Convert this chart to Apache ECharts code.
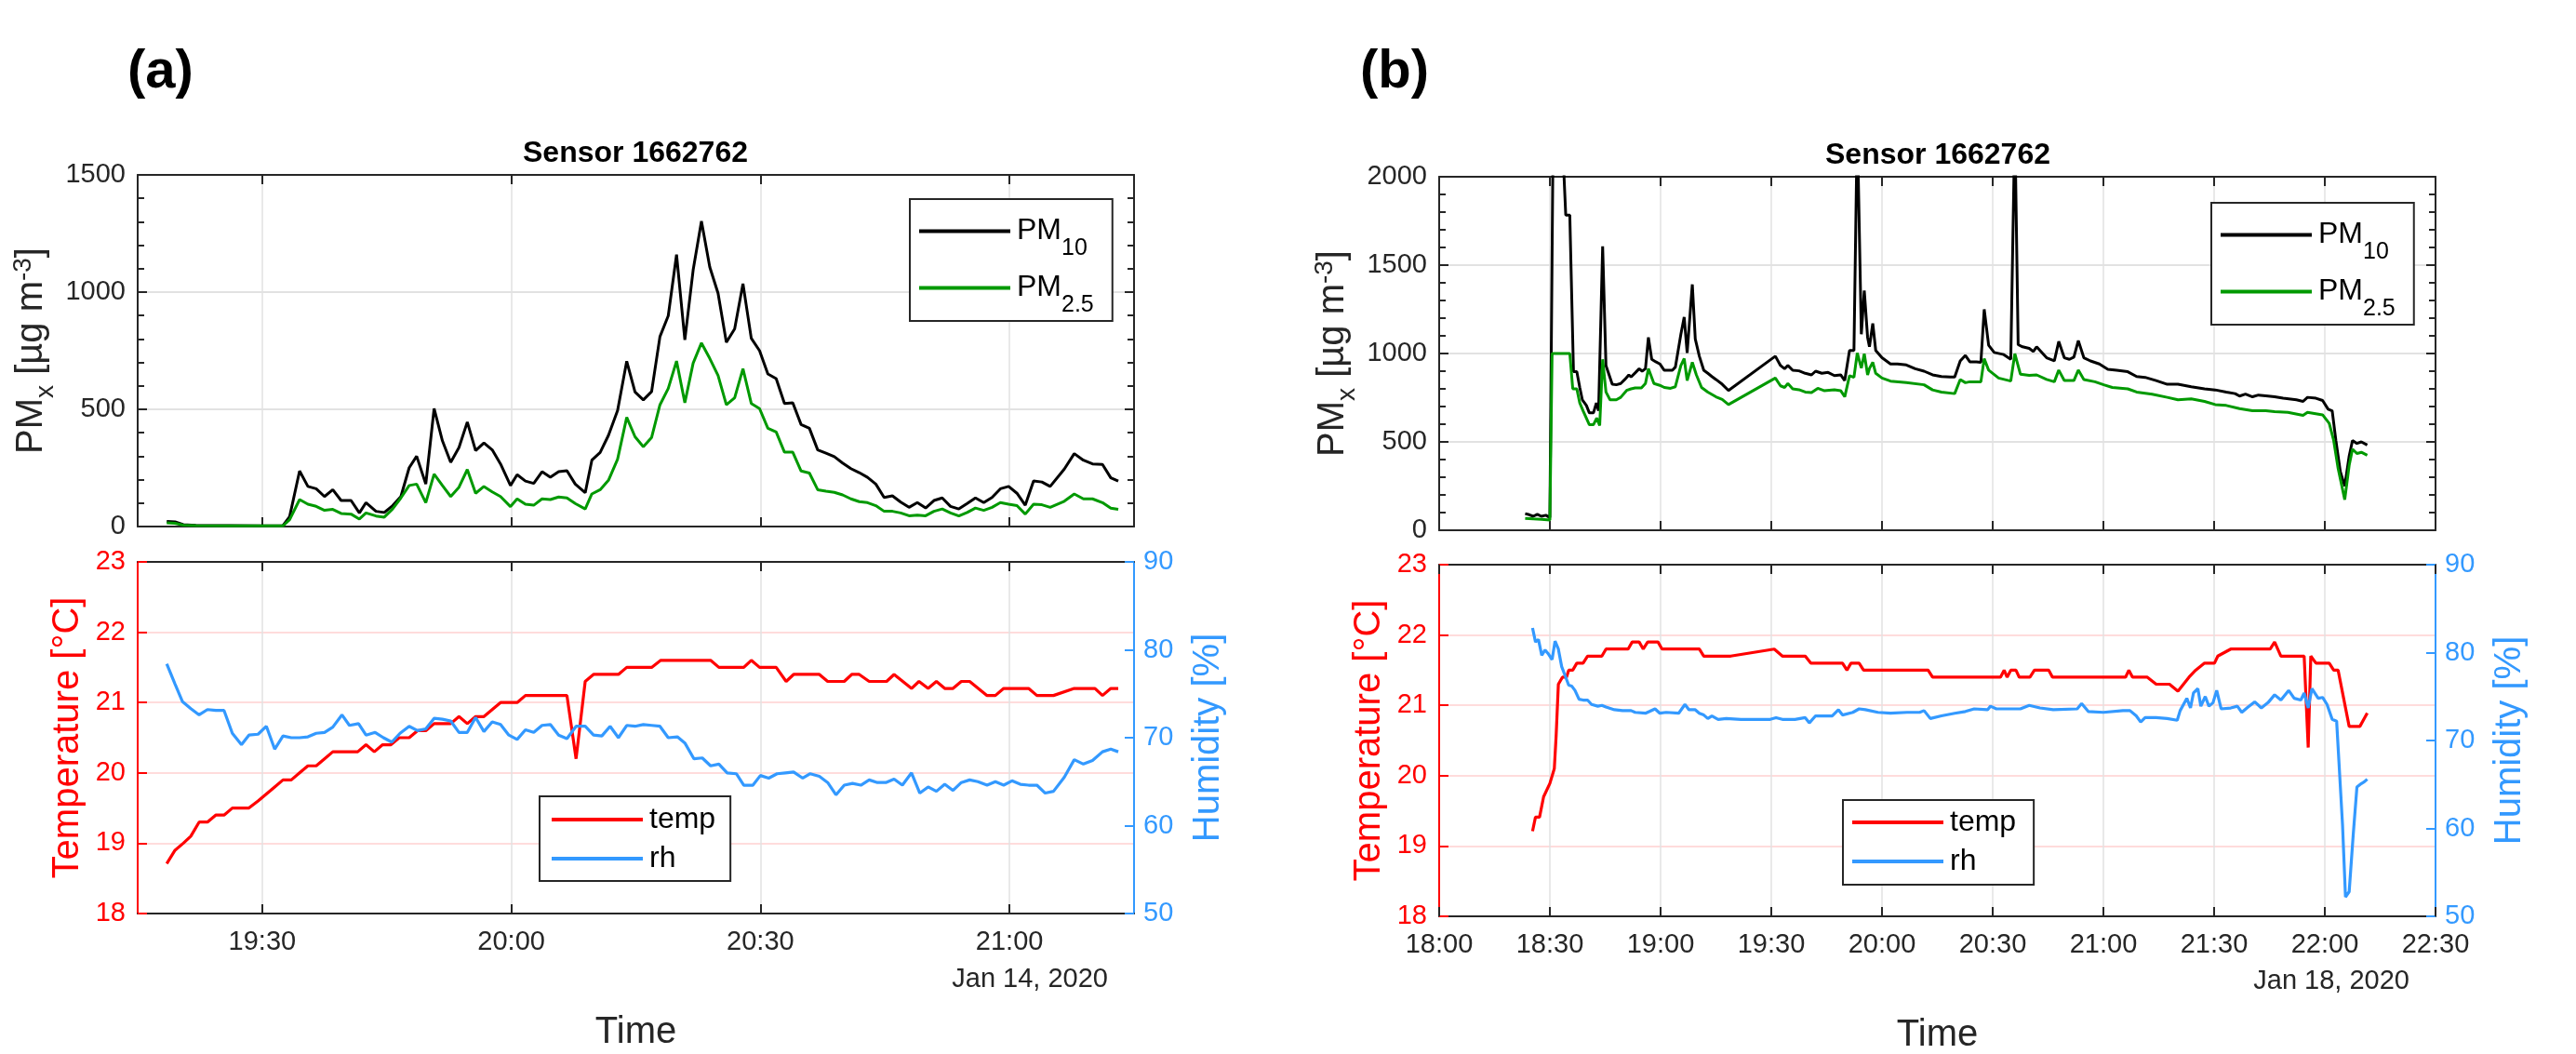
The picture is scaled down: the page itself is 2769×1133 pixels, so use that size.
<!DOCTYPE html>
<html><head><meta charset="utf-8">
<script src="https://cdn.jsdelivr.net/npm/echarts@6/dist/echarts.min.js"></script>
<style>html,body{margin:0;padding:0;background:#fff}#c{width:2769px;height:1133px}</style>
</head><body><div id="c"></div>
<script>
// ---------------- data (times in minutes after panel base hour) ----------------
const baseA = 19 * 60;   // Jan 14, 2020 19:00
const baseB = 18 * 60;   // Jan 18, 2020 18:00

const xTicksA = ['19:30', '20:00', '20:30', '21:00'];
const xTicksB = ['18:00', '18:30', '19:00', '19:30', '20:00', '20:30', '21:00', '21:30', '22:00', '22:30'];
const pmTicksA = [0, 500, 1000, 1500];
const pmTicksB = [0, 500, 1000, 1500, 2000];
const tempTicks = [18, 19, 20, 21, 22, 23];
const rhTicks = [50, 60, 70, 80, 90];

// Panel (a) PM
const tPMa = [18.5,19.5,20.5,22,26,30,32.5,33.3,34.5,35.5,36.5,37.5,38.5,39.5,40.7,41.7,42.5,43.7,44.7,45.7,46.7,47.7,48.6,49.7,50.7,51.7,52.7,53.7,54.7,55.7,56.7,57.7,58.7,59.9,60.7,61.7,62.7,63.7,64.7,65.7,66.7,67.7,68.9,69.7,70.7,71.7,72.8,73.9,74.9,75.9,76.9,77.9,78.9,79.9,80.9,81.9,82.9,83.9,84.9,85.9,86.9,87.9,88.9,89.9,90.9,91.9,92.9,93.9,94.9,95.9,96.9,97.9,98.9,99.9,100.9,101.9,102.9,103.9,104.9,105.9,106.9,107.9,108.9,109.9,110.9,111.9,112.9,113.9,114.9,115.9,116.9,117.9,118.9,119.9,120.9,121.9,122.9,123.9,124.9,126.6,127.8,128.9,130,131.2,132.2,133.1];
const pm10A = [22,20,8,5,4,3,4,42,237,171,161,128,157,111,111,58,102,65,60,89,128,251,300,181,503,366,274,337,446,324,357,327,267,175,221,194,184,234,210,234,238,181,144,283,316,389,495,705,574,540,576,810,899,1160,796,1094,1303,1107,995,786,843,1036,803,750,651,631,525,528,435,419,327,313,298,271,247,230,210,181,124,131,104,82,102,79,111,122,86,75,98,122,102,124,161,171,142,91,194,190,171,245,311,283,267,265,208,194];
const pm25A = [16,14,6,4,3,3,3,29,115,95,86,69,73,56,53,32,58,45,40,75,122,175,181,102,224,175,128,168,243,142,171,148,128,85,118,95,91,118,115,126,122,98,75,139,157,197,287,466,383,340,380,519,589,706,528,697,783,717,644,519,549,673,525,503,419,403,317,317,237,228,157,151,146,135,118,106,102,89,65,65,58,46,49,46,65,75,58,45,60,79,69,82,102,95,89,53,95,93,82,108,139,118,118,102,78,73];

// Panel (a) temperature
const tTempA = [18.5,19.5,20.5,21.4,22.4,23.4,24.4,25.4,26.4,28.4,29.5,30.5,31.5,32.5,33.5,34.5,35.5,36.5,37.5,38.5,41.5,42.5,43.5,44.5,45.5,46.5,47.7,48.7,49.7,50.7,52.7,53.7,54.7,55.7,56.7,57.7,58.7,60.7,61.7,66.7,67.8,68.9,69.9,72.9,73.9,76.9,78,84,85,88,88.9,89.9,91.9,93.1,94,97.1,98.1,100.1,101,101.9,103.1,105.2,106.1,108.2,109.1,110.2,111.2,112.2,113.2,114.2,115.2,117.3,118.3,119.3,122.3,123.3,125.3,127.8,130.3,131.2,132.2,133.1];
const tempA = [18.71,18.9,19.0,19.1,19.3,19.3,19.4,19.4,19.5,19.5,19.6,19.7,19.8,19.9,19.9,20.0,20.1,20.1,20.2,20.3,20.3,20.4,20.3,20.4,20.4,20.5,20.5,20.6,20.6,20.7,20.7,20.8,20.7,20.8,20.8,20.9,21.0,21.0,21.1,21.1,20.2,21.3,21.4,21.4,21.5,21.5,21.6,21.6,21.5,21.5,21.6,21.5,21.5,21.3,21.4,21.4,21.3,21.3,21.4,21.4,21.3,21.3,21.4,21.2,21.3,21.2,21.3,21.2,21.2,21.3,21.3,21.1,21.1,21.2,21.2,21.1,21.1,21.2,21.2,21.1,21.2,21.2];

// Panel (a) humidity
const tRhA = [18.5,19.5,20.4,21.4,22.4,23.4,24.4,25.4,26.4,27.5,28.4,29.5,30.5,31.5,32.5,33.5,34.5,35.5,36.5,37.5,38.5,39.6,40.5,41.6,42.5,43.6,44.6,45.6,46.6,47.7,48.7,49.7,50.7,51.7,52.7,53.7,54.7,55.7,56.7,57.7,58.7,59.7,60.7,61.7,62.7,63.7,64.7,65.7,66.7,67.8,68.9,69.9,70.9,71.9,72.9,73.9,74.9,75.9,76.9,77.9,78.9,80,80.9,82,83,84,85,86,87.1,88,89.1,90,91,92,93,94,95.1,96,97.1,98.1,99.1,100.1,101.1,102.1,103.1,104.1,105.1,106.1,107.1,108.2,109.2,110.2,111.2,112.2,113.2,114.2,115.2,116.2,117.3,118.3,119.3,120.3,121.3,122.3,123.3,124.3,125.3,126.6,127.8,128.9,130,131.2,132.2,133.1];
const rhA = [78.4,76.1,74.1,73.3,72.6,73.2,73.1,73.1,70.5,69.2,70.3,70.4,71.3,68.7,70.2,70.0,70.0,70.1,70.5,70.6,71.2,72.6,71.4,71.6,70.3,70.6,70.0,69.5,70.5,71.3,70.8,71.0,72.2,72.1,71.9,70.6,70.6,72.3,70.7,71.8,71.5,70.3,69.8,70.9,70.6,71.4,71.5,70.3,69.9,71.3,71.3,70.3,70.2,71.3,70.0,71.4,71.3,71.5,71.4,71.3,70.0,70.1,69.4,67.6,67.7,66.8,67.0,66.0,65.9,64.6,64.6,65.7,65.4,65.9,66.0,66.1,65.4,65.9,65.6,64.9,63.5,64.6,64.8,64.6,65.2,64.9,64.9,65.3,64.6,66.0,63.7,64.4,63.9,64.7,64.0,64.9,65.2,65.0,64.6,65.0,64.6,65.1,64.7,64.6,64.6,63.7,63.9,65.5,67.5,67.0,67.4,68.4,68.7,68.4];

// Panel (b) PM10 (values above 2000 are clipped by the axis)
const tPM10B = [23.3,24.4,25.5,26.6,27.7,28.9,30.0,30.9,33.2,34.3,35.4,36.4,37.3,38.1,38.8,39.9,40.7,41.8,42.6,43.2,44.3,45.2,46.9,48.0,49.2,50.3,51.4,52.0,53.1,54.2,55.0,55.9,56.7,57.6,58.7,59.8,61.0,63.2,64.0,65.5,66.4,67.2,68.6,69.4,70.5,71.7,72.8,73.9,75.0,76.7,78.4,91.1,92.5,93.6,94.5,95.8,97.5,99.2,100.9,102.0,103.7,105.4,107.1,108.8,109.9,111.2,112.4,113.3,114.4,115.2,116.1,116.6,117.5,118.3,120.0,122.3,124.2,126.6,129.0,131.4,133.7,136.1,138.5,139.7,141.2,142.6,143.8,145.6,146.8,147.7,148.9,150.4,153.0,154.9,156.0,156.9,158.1,159.9,161.0,161.9,164.6,166.7,167.9,169.4,170.8,172.0,173.2,174.7,176.5,178.9,181.2,183.6,186.6,189.0,191.3,194.3,197.3,200.2,203.8,207.4,210.3,213.3,215.7,216.9,218.5,220.4,222.0,224.0,226.4,228.7,232.3,234.1,235.3,237.6,239.4,240.9,242.0,243.0,244.2,245.4,246.6,247.5,248.7,249.9,251.5];
const pm10B = [94,88,79,90,79,85,72,2300,2300,1783,1783,897,897,808,738,706,664,664,720,676,1606,932,826,823,830,853,879,867,890,914,900,914,1091,967,953,941,905,905,923,1109,1206,1003,1391,1082,985,905,888,870,853,826,791,985,932,914,932,905,902,888,879,900,888,893,875,879,847,1017,1017,2300,1109,1356,1091,1038,1170,1017,976,941,941,935,914,900,879,870,867,867,958,989,953,953,950,1250,1047,1006,994,967,2300,1050,1038,1029,1011,1038,976,958,1068,976,967,980,1073,976,958,941,911,905,897,870,865,847,826,826,812,800,794,782,773,759,770,755,765,761,755,747,738,729,752,747,734,685,676,508,332,250,420,508,491,500,482];

// Panel (b) PM2.5
const tPM25B = [23.3,25.5,27.7,30.0,30.6,35.4,36.2,37.3,38.1,39.0,40.7,41.8,42.7,43.5,44.3,45.2,46.3,48.0,49.2,50.8,52.0,53.1,54.8,55.9,56.7,58.2,59.8,61.0,62.7,64.0,65.5,66.4,67.2,68.6,69.7,71.1,72.8,75.0,76.7,78.4,91.1,92.5,93.6,94.5,95.8,97.5,99.2,100.9,102.6,104.3,107.1,108.8,109.9,111.2,112.4,113.3,114.4,115.2,116.1,116.6,117.5,118.3,120.0,122.3,126.6,131.4,133.7,136.1,139.7,141.2,142.6,143.8,146.8,147.7,148.9,151.6,154.9,156.0,157.5,159.9,161.9,164.6,166.7,167.9,169.4,172.0,173.2,174.7,177.7,180.1,182.4,186.6,189.0,193.2,197.3,200.2,203.8,207.4,210.3,213.3,216.9,220.4,224.0,226.4,230.0,234.1,235.3,239.4,241.2,242.4,243.6,245.4,246.6,247.5,248.7,249.9,251.5];
const pm25B = [67,64,62,58,1000,1000,800,800,720,676,597,597,635,593,967,782,738,738,752,791,800,805,805,830,914,830,820,808,803,812,932,971,847,950,879,808,782,755,740,711,861,817,808,830,800,795,782,779,803,790,795,790,755,874,865,1003,918,999,879,915,950,888,861,844,835,823,794,782,773,853,835,840,840,971,906,861,844,999,883,876,879,853,840,906,847,847,906,853,840,823,808,800,782,770,752,738,743,729,711,706,688,676,676,671,667,650,667,653,605,508,350,173,367,459,434,441,424];

// Panel (b) temperature
const tTempB = [25.3,26.1,27.2,28.3,30.0,31.2,31.7,32.3,33.4,34.5,35.1,36.2,37.3,39.0,40.2,44.1,45.2,51.2,52.3,54.2,55.3,56.5,59.3,60.4,70.5,71.7,79.0,90.8,93.0,99.2,100.7,109.3,110.5,111.6,113.8,115.0,132.5,133.7,152.1,153.1,153.9,154.9,156.3,157.2,160.1,161.3,165.2,166.2,186.0,186.9,187.9,191.9,194.3,197.9,200.2,203.2,205.0,207.4,210.1,211.0,214.5,225.2,226.4,228.1,234.4,235.5,236.2,237.6,241.2,242.4,243.6,246.6,249.5,251.5];
const tempB = [19.21,19.41,19.41,19.70,19.89,20.1,20.57,21.3,21.4,21.4,21.5,21.5,21.6,21.6,21.7,21.7,21.8,21.8,21.9,21.9,21.8,21.9,21.9,21.8,21.8,21.7,21.7,21.8,21.7,21.7,21.6,21.6,21.5,21.6,21.6,21.5,21.5,21.4,21.4,21.5,21.4,21.5,21.5,21.4,21.4,21.5,21.5,21.4,21.4,21.5,21.4,21.4,21.3,21.3,21.2,21.4,21.5,21.6,21.6,21.7,21.8,21.8,21.9,21.7,21.7,20.4,21.7,21.6,21.6,21.5,21.5,20.7,20.7,20.89];

// Panel (b) humidity
const tRhB = [25.3,26.1,26.9,27.8,28.7,29.5,30.6,31.4,32.3,33.2,34.2,35.1,35.9,36.8,37.9,39.0,40.2,41.3,43.0,44.1,45.2,47.5,49.7,52.0,53.1,55.9,57.0,58.5,59.8,61.5,64.9,66.6,67.7,69.4,70.5,71.7,72.8,73.9,75.6,77.8,81.8,89.7,91.3,93.0,96.4,99.2,100.3,102.0,106.5,108.2,109.3,112.1,113.8,115.5,118.9,122.3,126.8,130.2,131.4,133.1,136.1,139.7,142.6,145.0,148.6,149.4,151.0,157.5,159.9,162.8,166.4,172.9,174.1,175.9,180.0,185.3,187.2,188.9,190.1,191.3,194.3,197.3,200.0,200.8,202.6,203.6,204.4,205.6,206.4,207.6,208.6,209.7,210.7,211.9,214.5,216.3,217.5,219.2,221.0,222.8,224.6,226.4,228.1,230.2,231.7,233.5,234.4,235.5,236.5,238.2,239.4,240.6,242.0,243.2,244.8,245.6,246.6,247.7,248.7,249.9,250.7,251.5];
const rhB = [82.8,81.2,81.5,79.7,80.3,79.9,79.2,81.3,80.4,78.4,77.3,76.3,76.2,75.7,74.7,74.6,74.6,74.1,73.9,74.0,73.8,73.5,73.4,73.4,73.2,73.1,73.3,73.6,73.1,73.2,73.1,74.1,73.5,73.5,73.1,72.9,72.5,72.8,72.4,72.5,72.4,72.4,72.6,72.4,72.4,72.6,72.0,72.8,72.8,73.5,72.9,73.2,73.6,73.5,73.2,73.1,73.2,73.2,73.4,72.5,72.8,73.1,73.3,73.6,73.5,73.9,73.6,73.6,74.0,73.7,73.5,73.6,74.2,73.3,73.2,73.4,73.4,72.8,72.1,72.6,72.6,72.5,72.3,73.4,74.8,73.7,75.4,75.9,73.9,75.0,73.9,74.3,75.7,73.6,73.7,73.9,73.2,73.8,74.4,73.7,74.3,75.2,74.6,75.7,74.8,74.6,75.4,73.7,75.9,74.8,74.9,74.1,72.4,72.2,60.4,52.2,52.8,59.3,64.7,65.1,65.3,65.6];

// ---------------- chart ----------------
const FONT = "'Liberation Sans', Arial, Helvetica, sans-serif";
const AX = '#262626';
const RED = '#ff0000';
const BLUE = '#3399ff';
const GREEN = '#009900';
const GRID = '#e2e2e2';
const PINK = '#ffdcdc';

const toMin = s => { const p = s.split(':').map(Number); return p[0] * 60 + p[1]; };
const hhmm = v => { const h = Math.floor(v / 60), m = Math.round(v - h * 60); return h + ':' + (m < 10 ? '0' : '') + m; };
const plain = v => String(v);
const pairs = (base, t, v) => t.map((x, i) => [base + x, v[i]]);

const xValsA = xTicksA.map(toMin);
const xValsB = xTicksB.map(toMin);
const xRangeA = [baseA + 15, baseA + 135];
const xRangeB = [xValsB[0], xValsB[xValsB.length - 1]];

const lineAx = (color) => ({ show: true, onZero: false, lineStyle: { color: color || AX, width: 2 } });
const tickAx = (color, len) => ({ show: true, inside: true, length: len || 10, lineStyle: { color: color || AX, width: 2 } });
const lab = (color, margin) => ({ color: color || AX, fontSize: 29, fontFamily: FONT, margin: margin, formatter: plain });

function xAxisFor(grid, panel, pos, main, withName) {
  const a = {
    type: 'value', gridIndex: grid, position: pos,
    axisLine: lineAx(), axisTick: tickAx(),
    splitLine: { show: main, lineStyle: { color: GRID, width: 1.5 } },
    axisLabel: { show: false },
  };
  if (panel === 'a') {
    a.min = xRangeA[0]; a.max = xRangeA[1];
    a.axisTick.customValues = xValsA;
    a.axisLabel.customValues = xValsA;
  } else {
    a.min = xRangeB[0]; a.max = xRangeB[1]; a.interval = 30;
  }
  if (withName) {
    Object.assign(a.axisLabel, lab(AX, 16), { show: true, formatter: hhmm });
    a.name = 'Time'; a.nameLocation = 'middle'; a.nameGap = 108;
    a.nameTextStyle = { color: AX, fontSize: 40, fontFamily: FONT };
  }
  return a;
}

const pmName = '{a|PM}{s|x}{a| [µg m}{p|-3}{a|]}';
const pmRich = {
  a: { fontSize: 40, fontFamily: FONT, color: AX, lineHeight: 44 },
  s: { fontSize: 28, fontFamily: FONT, color: AX, lineHeight: 28, padding: [30, 0, 0, 0] },
  p: { fontSize: 28, fontFamily: FONT, color: AX, lineHeight: 28, padding: [0, 0, 18, 0] }
};

function pmAxis(grid, ticks, side) {
  const left = side === 'left';
  const a = {
    type: 'value', gridIndex: grid, position: side,
    min: ticks[0], max: ticks[ticks.length - 1], interval: ticks[1] - ticks[0],
    axisLine: lineAx(), axisTick: tickAx(),
    minorTick: { show: true, splitNumber: 5, length: 7, lineStyle: { color: AX, width: 2 } },
    splitLine: { show: left, lineStyle: { color: GRID, width: 2 } },
    axisLabel: left ? lab(AX, 13) : { show: false }
  };
  if (left) {
    a.name = pmName; a.nameLocation = 'middle'; a.nameRotate = 90; a.nameGap = 92;
    a.nameTextStyle = { rich: pmRich, fontSize: 40, fontFamily: FONT, color: AX };
  }
  return a;
}
function tempAxis(grid) {
  return {
    type: 'value', gridIndex: grid, position: 'left',
    min: tempTicks[0], max: tempTicks[tempTicks.length - 1], interval: 1,
    axisLine: lineAx(RED), axisTick: tickAx(RED),
    splitLine: { show: true, lineStyle: { color: PINK, width: 2 } },
    axisLabel: lab(RED, 13),
    name: 'Temperature [°C]', nameLocation: 'middle', nameRotate: 90, nameGap: 55,
    nameTextStyle: { color: RED, fontSize: 40, fontFamily: FONT }
  };
}
function rhAxis(grid) {
  return {
    type: 'value', gridIndex: grid, position: 'right',
    min: rhTicks[0], max: rhTicks[rhTicks.length - 1], interval: 10,
    axisLine: lineAx(BLUE), axisTick: tickAx(BLUE),
    splitLine: { show: false },
    axisLabel: lab(BLUE, 10),
    name: 'Humidity [%]', nameLocation: 'middle', nameRotate: 90, nameGap: 60,
    nameTextStyle: { color: BLUE, fontSize: 40, fontFamily: FONT }
  };
}

const gridBase = { containLabel: false, outerBoundsMode: 'none', show: false };
const grids = [
  Object.assign({ left: 148, top: 188, width: 1071, height: 378 }, gridBase),
  Object.assign({ left: 148, top: 604, width: 1071, height: 378 }, gridBase),
  Object.assign({ left: 1547, top: 190, width: 1071, height: 380 }, gridBase),
  Object.assign({ left: 1547, top: 607, width: 1071, height: 378 }, gridBase)
];

const xAxes = [
  xAxisFor(0, 'a', 'bottom', true, false), xAxisFor(0, 'a', 'top', false, false),
  xAxisFor(1, 'a', 'bottom', true, true),  xAxisFor(1, 'a', 'top', false, false),
  xAxisFor(2, 'b', 'bottom', true, false), xAxisFor(2, 'b', 'top', false, false),
  xAxisFor(3, 'b', 'bottom', true, true),  xAxisFor(3, 'b', 'top', false, false)
];
const yAxes = [
  pmAxis(0, pmTicksA, 'left'), pmAxis(0, pmTicksA, 'right'),
  tempAxis(1), rhAxis(1),
  pmAxis(2, pmTicksB, 'left'), pmAxis(2, pmTicksB, 'right'),
  tempAxis(3), rhAxis(3)
];

function line(name, xi, yi, data, color, width) {
  return {
    type: 'line', name: name, xAxisIndex: xi, yAxisIndex: yi, data: data,
    showSymbol: false, symbol: 'none', clip: true, smooth: false,
    itemStyle: { color: color }, lineStyle: { color: color, width: width },
    emphasis: { disabled: true }, silent: true
  };
}

const series = [
  line('PM10_a', 0, 0, pairs(baseA, tPMa, pm10A), '#000000', 3),
  line('PM25_a', 0, 0, pairs(baseA, tPMa, pm25A), GREEN, 3),
  line('temp_a', 2, 2, pairs(baseA, tTempA, tempA), RED, 3.2),
  line('rh_a', 2, 3, pairs(baseA, tRhA, rhA), BLUE, 3.2),
  line('PM10_b', 4, 4, pairs(baseB, tPM10B, pm10B), '#000000', 3),
  line('PM25_b', 4, 4, pairs(baseB, tPM25B, pm25B), GREEN, 3),
  line('temp_b', 6, 6, pairs(baseB, tTempB, tempB), RED, 3.2),
  line('rh_b', 6, 7, pairs(baseB, tRhB, rhB), BLUE, 3.2)
];

const legendLabels = {
  PM10_a: '{m|PM}{s|10}', PM25_a: '{m|PM}{s|2.5}', PM10_b: '{m|PM}{s|10}', PM25_b: '{m|PM}{s|2.5}',
  temp_a: '{m|temp}', rh_a: '{m|rh}', temp_b: '{m|temp}', rh_b: '{m|rh}'
};
const legRich = {
  m: { fontSize: 32, fontFamily: FONT, color: '#000', lineHeight: 36 },
  s: { fontSize: 25, fontFamily: FONT, color: '#000', lineHeight: 24, padding: [38, 0, 0, 0] }
};
function legend(names, left, top, pad, gap) {
  return {
    data: names, left: left, top: top, orient: 'vertical', padding: pad, itemGap: gap,
    icon: 'rect', itemWidth: 98, itemHeight: 4, selectedMode: false,
    backgroundColor: '#ffffff', borderColor: AX, borderWidth: 2, borderRadius: 0,
    formatter: n => legendLabels[n],
    textStyle: { rich: legRich, fontSize: 32, fontFamily: FONT, color: '#000', padding: [0, 0, 0, 2] }
  };
}

const txt = (x, y, text, font, fill, align) => ({
  type: 'text', x: x, y: y, silent: true,
  style: { text: text, font: font, fill: fill, align: align, textAlign: align, verticalAlign: 'middle', textVerticalAlign: 'middle' }
});

const option = {
  animation: false,
  backgroundColor: '#ffffff',
  grid: grids,
  xAxis: xAxes,
  yAxis: yAxes,
  series: series,
  legend: [
    legend(['PM10_a', 'PM25_a'], 978, 214, [3, 20, 4, 10], -2),
    legend(['temp_a', 'rh_a'], 580, 856, [9, 16, 8, 13], 10),
    legend(['PM10_b', 'PM25_b'], 2377, 218, [3, 20, 4, 10], -2),
    legend(['temp_b', 'rh_b'], 1981, 860, [8, 19, 9, 10], 10)
  ],
  graphic: [
    txt(137, 78, '(a)', 'bold 58px ' + FONT, '#000', 'left'),
    txt(1462, 78, '(b)', 'bold 58px ' + FONT, '#000', 'left'),
    txt(683, 165, 'Sensor 1662762', 'bold 32px ' + FONT, '#000', 'center'),
    txt(2083, 167, 'Sensor 1662762', 'bold 32px ' + FONT, '#000', 'center'),
    txt(1191, 1053, 'Jan 14, 2020', '29px ' + FONT, AX, 'right'),
    txt(2590, 1055, 'Jan 18, 2020', '29px ' + FONT, AX, 'right')
  ]
};

const chart = echarts.init(document.getElementById('c'), null, { renderer: 'canvas', width: 2769, height: 1133 });
chart.setOption(option);
</script></body></html>
